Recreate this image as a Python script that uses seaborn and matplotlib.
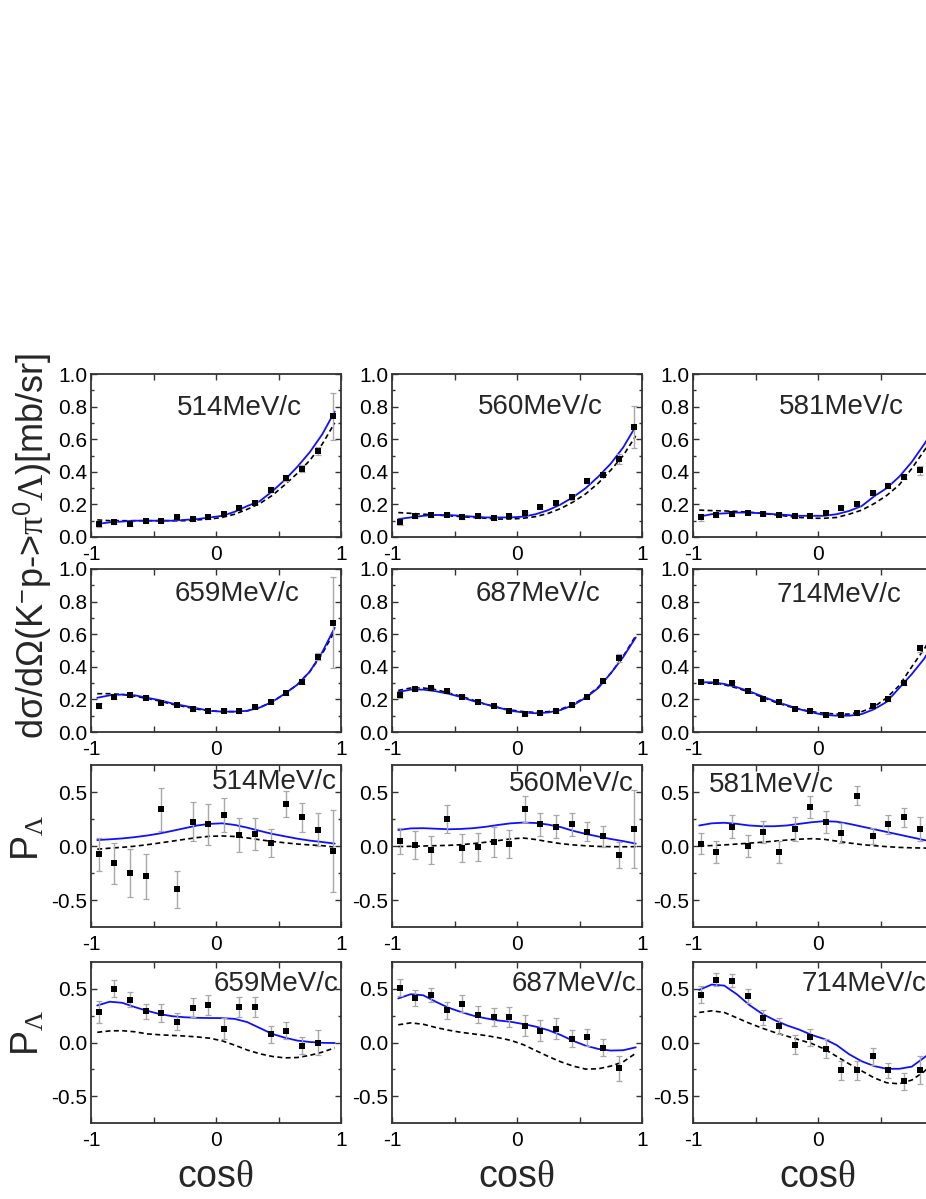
import matplotlib
matplotlib.use("Agg")
import matplotlib.pyplot as plt
import seaborn as sns

# cos(theta) bin centres of the data and the grid the model curves were read on
cos_bins = [-0.9375, -0.8125, -0.6875, -0.5625, -0.4375, -0.3125, -0.1875, -0.0625,
            0.0625, 0.1875, 0.3125, 0.4375, 0.5625, 0.6875, 0.8125, 0.9375]
curve_x = [-0.95, -0.85, -0.75, -0.65, -0.55, -0.45, -0.35, -0.25, -0.15, -0.05,
           0.05, 0.15, 0.25, 0.35, 0.45, 0.55, 0.65, 0.75, 0.85, 0.95]

momenta = ["514MeV/c", "560MeV/c", "581MeV/c", "659MeV/c", "687MeV/c", "714MeV/c"]

# differential cross sections [mb/sr]
ds_514 = [0.08, 0.09, 0.08, 0.10, 0.10, 0.12, 0.11, 0.12, 0.14, 0.18, 0.21, 0.29, 0.36, 0.42, 0.53, 0.74]
ds_514_err = [0.02, 0.01, 0.01, 0.01, 0.01, 0.01, 0.01, 0.01, 0.01, 0.01, 0.01, 0.015, 0.015, 0.02, 0.025, 0.145]
ds_514_fit = [0.08, 0.09, 0.095, 0.10, 0.10, 0.10, 0.10, 0.105, 0.11, 0.12, 0.13, 0.155, 0.19, 0.22, 0.28, 0.35, 0.43, 0.52, 0.63, 0.77]
ds_514_old = [0.105, 0.10, 0.10, 0.10, 0.10, 0.10, 0.10, 0.10, 0.105, 0.11, 0.12, 0.14, 0.17, 0.205, 0.255, 0.32, 0.39, 0.47, 0.57, 0.70]

ds_560 = [0.093, 0.126, 0.134, 0.138, 0.122, 0.128, 0.115, 0.128, 0.146, 0.181, 0.21, 0.243, 0.346, 0.381, 0.478, 0.676]
ds_560_err = [0.02, 0.01, 0.01, 0.01, 0.01, 0.01, 0.01, 0.01, 0.01, 0.01, 0.01, 0.015, 0.015, 0.015, 0.03, 0.13]
ds_560_fit = [0.11, 0.12, 0.13, 0.135, 0.135, 0.13, 0.125, 0.12, 0.12, 0.12, 0.125, 0.14, 0.165, 0.20, 0.245, 0.30, 0.37, 0.45, 0.55, 0.68]
ds_560_old = [0.15, 0.145, 0.14, 0.135, 0.13, 0.125, 0.12, 0.115, 0.11, 0.11, 0.115, 0.125, 0.145, 0.175, 0.215, 0.265, 0.33, 0.41, 0.50, 0.62]

ds_581 = [0.12, 0.134, 0.14, 0.15, 0.144, 0.136, 0.128, 0.128, 0.148, 0.175, 0.202, 0.268, 0.315, 0.371, 0.408]
ds_581_err = [0.02, 0.01, 0.01, 0.01, 0.01, 0.01, 0.01, 0.01, 0.01, 0.01, 0.01, 0.01, 0.015, 0.015, 0.03]
ds_581_fit = [0.125, 0.14, 0.145, 0.15, 0.15, 0.145, 0.14, 0.135, 0.13, 0.13, 0.13, 0.14, 0.16, 0.19, 0.25, 0.30, 0.37, 0.46, 0.57, 0.69]
ds_581_old = [0.165, 0.162, 0.16, 0.157, 0.152, 0.145, 0.137, 0.128, 0.12, 0.115, 0.115, 0.12, 0.14, 0.165, 0.205, 0.255, 0.32, 0.42, 0.53, 0.64]

ds_659 = [0.162, 0.214, 0.226, 0.21, 0.18, 0.168, 0.14, 0.127, 0.131, 0.129, 0.152, 0.185, 0.24, 0.308, 0.462, 0.67]
ds_659_err = [0.015, 0.01, 0.01, 0.01, 0.01, 0.01, 0.01, 0.01, 0.01, 0.01, 0.01, 0.01, 0.01, 0.015, 0.02, 0.28]
ds_659_fit = [0.21, 0.225, 0.23, 0.225, 0.21, 0.195, 0.175, 0.16, 0.145, 0.13, 0.125, 0.125, 0.13, 0.15, 0.185, 0.235, 0.29, 0.37, 0.49, 0.64]
ds_659_old = [0.235, 0.235, 0.23, 0.22, 0.205, 0.19, 0.17, 0.155, 0.14, 0.13, 0.125, 0.125, 0.13, 0.15, 0.185, 0.235, 0.29, 0.37, 0.48, 0.62]

ds_687 = [0.226, 0.263, 0.267, 0.25, 0.216, 0.185, 0.158, 0.131, 0.113, 0.119, 0.129, 0.168, 0.216, 0.314, 0.456]
ds_687_err = [0.015, 0.01, 0.01, 0.01, 0.01, 0.01, 0.01, 0.01, 0.01, 0.01, 0.01, 0.01, 0.01, 0.015, 0.025]
ds_687_fit = [0.245, 0.26, 0.26, 0.25, 0.235, 0.215, 0.19, 0.17, 0.15, 0.13, 0.12, 0.115, 0.12, 0.135, 0.165, 0.21, 0.27, 0.36, 0.46, 0.58]
ds_687_old = [0.255, 0.27, 0.27, 0.26, 0.24, 0.22, 0.195, 0.17, 0.15, 0.135, 0.125, 0.12, 0.125, 0.14, 0.17, 0.215, 0.275, 0.36, 0.465, 0.59]

ds_714 = [0.308, 0.306, 0.298, 0.253, 0.203, 0.187, 0.144, 0.129, 0.105, 0.103, 0.117, 0.158, 0.203, 0.302, 0.513]
ds_714_err = [0.01, 0.01, 0.01, 0.01, 0.01, 0.01, 0.01, 0.01, 0.01, 0.01, 0.01, 0.01, 0.01, 0.015, 0.02]
ds_714_fit = [0.305, 0.305, 0.295, 0.275, 0.25, 0.22, 0.19, 0.165, 0.14, 0.12, 0.105, 0.10, 0.10, 0.11, 0.14, 0.185, 0.27, 0.355, 0.45, 0.58]
ds_714_old = [0.30, 0.30, 0.29, 0.27, 0.245, 0.215, 0.185, 0.16, 0.14, 0.125, 0.115, 0.11, 0.11, 0.125, 0.155, 0.21, 0.285, 0.40, 0.51, 0.63]

# Lambda polarisation
p_514 = [-0.078, -0.158, -0.248, -0.28, 0.339, -0.40, 0.224, 0.20, 0.286, 0.10, 0.11, 0.03, 0.385, 0.264, 0.152, -0.05]
p_514_err = [0.155, 0.19, 0.22, 0.21, 0.20, 0.17, 0.18, 0.19, 0.16, 0.155, 0.145, 0.13, 0.12, 0.13, 0.15, 0.38]
p_514_fit = [0.055, 0.062, 0.07, 0.082, 0.097, 0.116, 0.14, 0.165, 0.19, 0.205, 0.21, 0.195, 0.17, 0.14, 0.112, 0.09, 0.068, 0.05, 0.037, 0.022]
p_514_old = [-0.03, -0.02, -0.012, -0.002, 0.012, 0.028, 0.045, 0.062, 0.078, 0.09, 0.093, 0.088, 0.075, 0.058, 0.042, 0.03, 0.018, 0.01, 0.003, -0.01]

p_560 = [0.047, 0.006, -0.037, 0.25, -0.019, -0.009, 0.04, 0.019, 0.34, 0.20, 0.18, 0.20, 0.134, 0.09, -0.08, 0.16]
p_560_err = [0.12, 0.13, 0.13, 0.13, 0.13, 0.13, 0.14, 0.13, 0.12, 0.11, 0.105, 0.105, 0.09, 0.095, 0.12, 0.36]
p_560_fit = [0.148, 0.163, 0.165, 0.16, 0.155, 0.158, 0.165, 0.178, 0.195, 0.21, 0.217, 0.213, 0.198, 0.175, 0.14, 0.112, 0.088, 0.065, 0.045, 0.022]
p_560_old = [-0.005, -0.003, 0.0, 0.003, 0.006, 0.012, 0.022, 0.035, 0.05, 0.066, 0.074, 0.06, 0.04, 0.022, 0.01, 0.002, -0.004, -0.006, -0.007, -0.006]

p_581 = [0.022, -0.056, 0.18, 0.0, 0.13, -0.056, 0.155, 0.363, 0.224, 0.121, 0.466, 0.09, 0.20, 0.264, 0.16]
p_581_err = [0.095, 0.10, 0.105, 0.10, 0.10, 0.10, 0.11, 0.10, 0.10, 0.09, 0.09, 0.075, 0.09, 0.085, 0.11]
p_581_fit = [0.19, 0.21, 0.215, 0.205, 0.19, 0.183, 0.183, 0.19, 0.205, 0.22, 0.23, 0.225, 0.205, 0.18, 0.155, 0.13, 0.105, 0.08, 0.055, 0.035]
p_581_old = [0.0, 0.004, 0.01, 0.018, 0.026, 0.035, 0.045, 0.055, 0.063, 0.068, 0.062, 0.045, 0.028, 0.013, 0.003, -0.006, -0.013, -0.017, -0.019, -0.02]

p_659 = [0.286, 0.503, 0.40, 0.292, 0.276, 0.193, 0.323, 0.351, 0.13, 0.332, 0.332, 0.078, 0.109, -0.028, 0.0]
p_659_err = [0.10, 0.075, 0.07, 0.07, 0.085, 0.08, 0.09, 0.095, 0.10, 0.095, 0.095, 0.08, 0.08, 0.08, 0.12]
p_659_fit = [0.345, 0.38, 0.37, 0.33, 0.295, 0.265, 0.245, 0.235, 0.23, 0.228, 0.227, 0.22, 0.19, 0.135, 0.08, 0.045, 0.018, 0.005, -0.003, -0.005]
p_659_old = [0.095, 0.108, 0.11, 0.10, 0.08, 0.072, 0.066, 0.06, 0.052, 0.04, 0.015, -0.025, -0.07, -0.105, -0.13, -0.143, -0.14, -0.12, -0.09, -0.05]

p_687 = [0.512, 0.413, 0.44, 0.30, 0.36, 0.26, 0.24, 0.24, 0.158, 0.11, 0.13, 0.037, 0.05, -0.05, -0.242]
p_687_err = [0.08, 0.075, 0.065, 0.08, 0.08, 0.08, 0.085, 0.095, 0.095, 0.10, 0.095, 0.08, 0.08, 0.08, 0.12]
p_687_fit = [0.41, 0.45, 0.44, 0.38, 0.325, 0.285, 0.25, 0.225, 0.205, 0.193, 0.172, 0.148, 0.115, 0.07, 0.015, -0.03, -0.06, -0.075, -0.072, -0.045]
p_687_old = [0.165, 0.183, 0.17, 0.14, 0.115, 0.095, 0.08, 0.065, 0.045, 0.02, -0.02, -0.075, -0.13, -0.18, -0.22, -0.248, -0.245, -0.22, -0.18, -0.10]

p_714 = [0.444, 0.584, 0.575, 0.432, 0.23, 0.155, -0.019, 0.05, -0.059, -0.26, -0.26, -0.13, -0.26, -0.363, -0.26]
p_714_err = [0.08, 0.06, 0.06, 0.065, 0.07, 0.072, 0.085, 0.08, 0.09, 0.09, 0.09, 0.08, 0.07, 0.08, 0.13]
p_714_fit = [0.49, 0.54, 0.53, 0.45, 0.35, 0.27, 0.21, 0.16, 0.12, 0.07, 0.033, -0.025, -0.11, -0.175, -0.22, -0.245, -0.245, -0.225, -0.14, -0.05]
p_714_old = [0.28, 0.295, 0.28, 0.23, 0.18, 0.135, 0.095, 0.06, 0.025, -0.01, -0.06, -0.13, -0.2, -0.265, -0.33, -0.375, -0.385, -0.35, -0.27, -0.15]

# label position (data coords, left edge / vertical centre) per panel
label_pos = [(-0.31, 0.79), (-0.31, 0.80), (-0.31, 0.80),
             (-0.33, 0.845), (-0.33, 0.845), (-0.33, 0.84),
             (-0.035, 0.59), (-0.067, 0.575), (-0.87, 0.565),
             (-0.02, 0.547), (-0.04, 0.547), (-0.13, 0.547)]

W, H = 926, 1199
col_left = [91, 392, 693]
row_top = [374, 569, 765, 962]
row_h = [163, 163, 162, 161]
AX_W = 250

FRAME = "#333333"
ERR = "#a8a8a8"


def px_rect(left, top, w, h):
    return [left / W, 1 - (top + h) / H, w / W, h / H]


def style_axes(ax, kind, last_col):
    ax.set_xlim(-1, 1)
    ax.set_xticks([-1, -0.5, 0, 0.5, 1])
    # the right-hand column runs past the edge of the picture
    ax.set_xticklabels(["-1", "", "0", "", "" if last_col else "1"])
    if kind == "ds":
        ax.set_ylim(0, 1)
        ax.set_yticks([0, 0.2, 0.4, 0.6, 0.8, 1.0])
        ax.set_yticklabels(["0.0", "0.2", "0.4", "0.6", "0.8", "1.0"])
        ax.set_yticks([0.1, 0.3, 0.5, 0.7, 0.9], minor=True)
    else:
        ax.set_ylim(-0.75, 0.75)
        ax.set_yticks([-0.5, 0, 0.5])
        ax.set_yticklabels(["-0.5", "0.0", "0.5"])
        ax.set_yticks([-0.25, 0.25], minor=True)
    ax.tick_params(which="both", direction="in", top=True, right=True,
                   color=FRAME, width=1.0, labelsize=15, labelcolor="black")
    ax.tick_params(which="major", length=4.5)
    ax.tick_params(which="minor", length=2.5)
    ax.tick_params(axis="x", pad=6)
    ax.tick_params(axis="y", pad=2.5)
    for sp in ax.spines.values():
        sp.set_visible(True)
        sp.set_color(FRAME)
        sp.set_linewidth(1.3)
    ax.set_xlabel("")
    ax.set_ylabel("")


def draw_panel(ax, pts, err, fit, old, label, lpos, kind, last_col):
    xs = cos_bins[:len(pts)]
    sns.lineplot(x=curve_x, y=old, ax=ax, color="black", linewidth=1.2,
                 linestyle=(0, (3, 2)), sort=False, estimator=None)
    sns.lineplot(x=curve_x, y=fit, ax=ax, color="#1010ff", linewidth=1.3,
                 sort=False, estimator=None)
    ax.errorbar(xs, pts, yerr=err, fmt="none", ecolor=ERR, elinewidth=1.0,
                capsize=2.2, capthick=0.9, zorder=3)
    sns.scatterplot(x=xs, y=pts, ax=ax, marker="s", color="black", s=24,
                    edgecolor="black", linewidth=0, zorder=4)
    ax.text(lpos[0], lpos[1], label, fontsize=20, ha="left", va="center")
    style_axes(ax, kind, last_col)


def main():
    sns.set_style("ticks")
    plt.rcParams["font.family"] = ["Liberation Sans", "DejaVu Sans"]
    plt.rcParams["mathtext.fontset"] = "custom"
    plt.rcParams["mathtext.rm"] = "Liberation Serif"
    plt.rcParams["mathtext.it"] = "Liberation Serif:italic"
    plt.rcParams["mathtext.sf"] = "Liberation Sans"
    plt.rcParams["axes.unicode_minus"] = False

    fig = plt.figure(figsize=(W / 100, H / 100), dpi=100)

    panels = [
        (ds_514, ds_514_err, ds_514_fit, ds_514_old, "ds"),
        (ds_560, ds_560_err, ds_560_fit, ds_560_old, "ds"),
        (ds_581, ds_581_err, ds_581_fit, ds_581_old, "ds"),
        (ds_659, ds_659_err, ds_659_fit, ds_659_old, "ds"),
        (ds_687, ds_687_err, ds_687_fit, ds_687_old, "ds"),
        (ds_714, ds_714_err, ds_714_fit, ds_714_old, "ds"),
        (p_514, p_514_err, p_514_fit, p_514_old, "p"),
        (p_560, p_560_err, p_560_fit, p_560_old, "p"),
        (p_581, p_581_err, p_581_fit, p_581_old, "p"),
        (p_659, p_659_err, p_659_fit, p_659_old, "p"),
        (p_687, p_687_err, p_687_fit, p_687_old, "p"),
        (p_714, p_714_err, p_714_fit, p_714_old, "p"),
    ]

    for i, (pts, err, fit, old, kind) in enumerate(panels):
        r, c = divmod(i, 3)
        ax = fig.add_axes(px_rect(col_left[c], row_top[r], AX_W, row_h[r]))
        draw_panel(ax, pts, err, fit, old, momenta[i % 6], label_pos[i], kind, c == 2)

    # axis titles
    fig.text(33 / W, 1 - 546 / H,
             r"dσ/dΩ(K$^{\mathsf{-}}$p->$\mathrm{\pi}^{\mathsf{0}}\mathrm{\Lambda}$)[mb/sr]",
             rotation=90, fontsize=26, ha="center", va="center")
    for yc in (838, 1033):
        fig.text(28 / W, 1 - yc / H, r"P$_{\mathrm{\Lambda}}$", rotation=90,
                 fontsize=27, ha="center", va="center")
    for xc in (215, 516, 817):
        fig.text(xc / W, 1 - 1177 / H, r"cos$\mathrm{\theta}$", fontsize=27,
                 ha="center", va="center")

    fig.savefig("out.png", dpi=100)


if __name__ == "__main__":
    main()
